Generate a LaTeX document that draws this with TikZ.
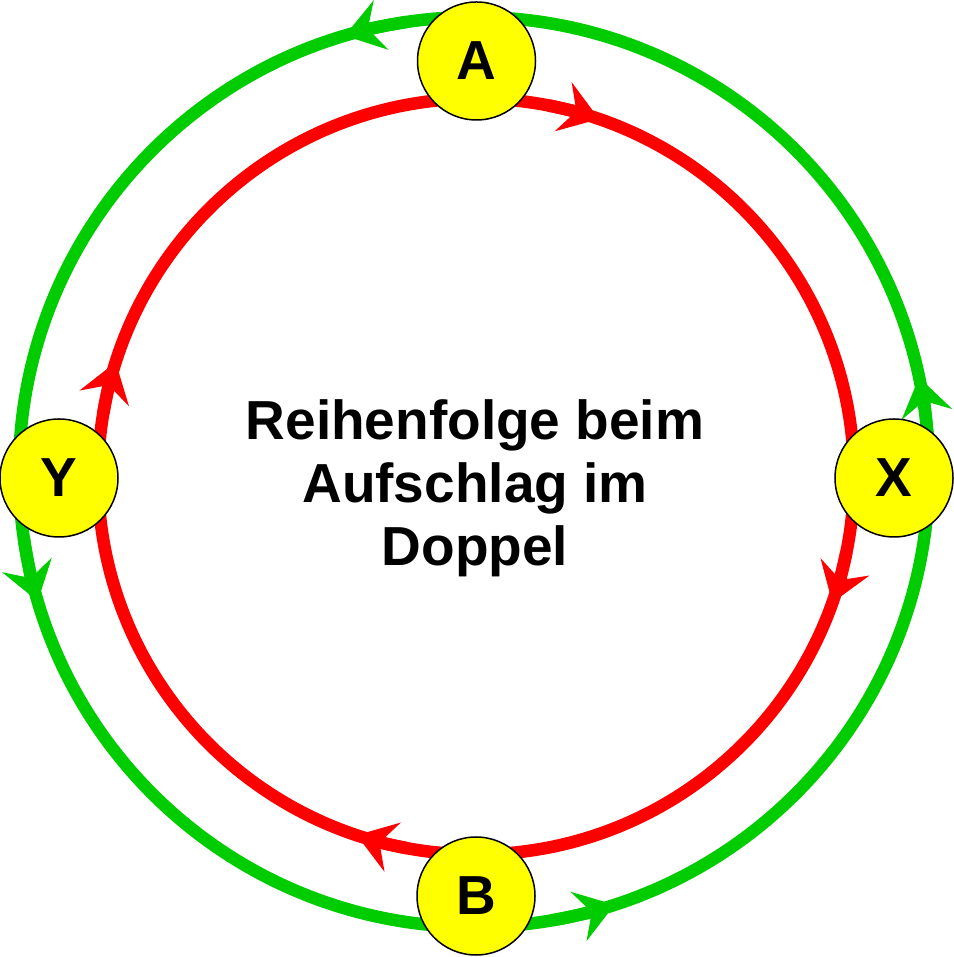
\documentclass[tikz,border=0pt]{standalone}
\usepackage{fontspec}
\setmainfont{Liberation Sans}
\usetikzlibrary{arrows.meta}
\definecolor{ringgreen}{RGB}{0,204,0}
\definecolor{ringred}{RGB}{255,0,0}
\definecolor{nodeyellow}{RGB}{255,255,0}
\tikzset{
  redring/.style={draw=ringred, line width=12.5pt},
  greenring/.style={draw=ringgreen, line width=12.5pt},
  tipr/.style={-{Stealth[length=38pt,width=52pt,inset=14pt,line width=0pt]}},
  player/.style={circle, draw=black, line width=1.5pt, fill=nodeyellow,
    minimum size=118pt, inner sep=0pt, font=\fontsize{55}{63}\selectfont\bfseries},
}
\begin{document}
\begin{tikzpicture}[x=1pt,y=1pt]
\useasboundingbox (0,0) rectangle (953,957);
\coordinate (rc) at (476,480.5);
\coordinate (gc) at (474,485);
% rings
\draw[greenring] (gc) circle[radius=455];
\draw[redring] (rc) circle[radius=378];
% green arrows (counter-clockwise)
\foreach \a in {106.5,196.5,288,12}{
  \draw[greenring,tipr] (gc) ++(\a-8:455) arc[start angle=\a-8, end angle=\a, radius=455];
}
% red arrows (clockwise)
\foreach \a in {71,-19.5,-108.4,162.4}{
  \draw[redring,tipr] (rc) ++(\a+8:378) arc[start angle=\a+8, end angle=\a, radius=378];
}
% players
\node[player] (A) at (476.5,896) {A};
\node[player] (Y) at (59,479) {Y};
\node[player] (X) at (894,479) {X};
\node[player] (B) at (476,61) {B};
\node[align=center, font=\fontsize{55}{63}\selectfont\bfseries] (title) at (475,469)
  {Reihenfolge beim\\Aufschlag im\\Doppel};
\end{tikzpicture}
\end{document}
